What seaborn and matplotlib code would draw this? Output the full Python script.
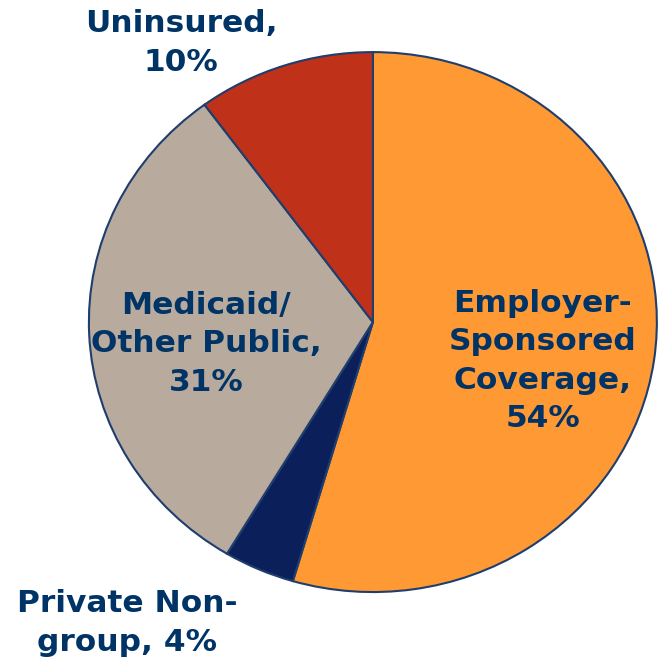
import matplotlib
matplotlib.use("Agg")
import matplotlib.pyplot as plt
import seaborn as sns

sns.set_theme(style="white")
plt.rcParams['font.family'] = ['DejaVu Sans']

categories = ["Employer-\nSponsored\nCoverage,", "Private Non-\ngroup,", "Medicaid/\nOther Public,", "Uninsured,"]
shares = [54, 4, 31, 10]
colors = sns.color_palette(["#FF9933", "#0B1F5B", "#B8AA9D", "#C0311A"])

# label anchor points as figure fractions
label_pos = [(543 / 658, 1 - 361 / 659), (127 / 658, 1 - 623 / 659),
             (206 / 658, 1 - 344 / 659), (181 / 658, 1 - 43 / 659)]

fig = plt.figure(figsize=(6.58, 6.59), dpi=100)
ax = fig.add_axes([0, 0, 1, 1])
ax.pie(shares, colors=colors, startangle=90, counterclock=False,
       wedgeprops=dict(edgecolor="#1F3E6E", linewidth=1.5))
ax.set_aspect("auto")
ax.set_xlim(-1.313, 1.004)
ax.set_ylim(-1.248, 1.193)
ax.axis("off")

for cat, val, (fx, fy) in zip(categories, shares, label_pos):
    if cat.startswith("Private"):
        txt = "Private Non-\ngroup, %d%%" % val
    else:
        txt = "%s\n%d%%" % (cat, val)
    fig.text(fx, fy, txt, ha="center", va="center", fontsize=22.5,
             fontweight="bold", color="#003366", linespacing=1.4)

fig.savefig("out.png", dpi=100)
